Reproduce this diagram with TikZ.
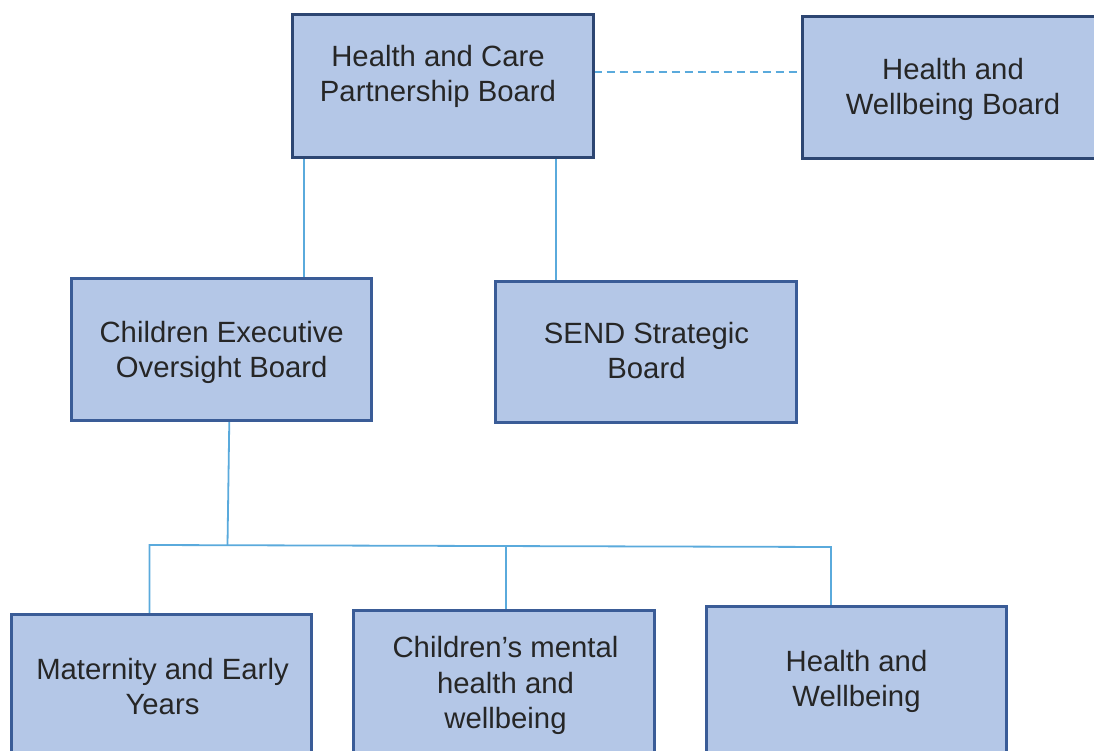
\documentclass[tikz,border=0pt]{standalone}
\usepackage{fontspec}
\setmainfont{Liberation Sans}
\usetikzlibrary{backgrounds}

\definecolor{boxfill}{HTML}{B4C7E7}
\definecolor{boxline}{HTML}{3A5C97}
\definecolor{topline}{HTML}{2D4672}
\definecolor{linkblue}{HTML}{5AAADC}
\definecolor{txtgray}{HTML}{262626}

\tikzset{
  board/.style={draw=boxline, line width=3pt, fill=boxfill, rectangle,
    inner sep=0pt, outer sep=0pt},
  topboard/.style={board, draw=topline},
  label text/.style={anchor=north, inner sep=0pt, align=center,
    text=txtgray, font=\fontsize{29.3}{35.5}\selectfont},
  link/.style={draw=linkblue, line width=1.8pt},
  dashlink/.style={link, dash pattern=on 8pt off 5pt}
}

\begin{document}
\begin{tikzpicture}[x=1pt, y=-1pt]
  \useasboundingbox (0,0) rectangle (1094,751);
  \clip (0,0) rectangle (1094,751);

  % boards
  \node[topboard, minimum width=301pt, minimum height=143pt] (hcpb) at (443,86) {};
  \node[topboard, minimum width=306pt, minimum height=142pt] (hwb) at (955.5,87.5) {};
  \node[board, minimum width=300pt, minimum height=142pt] (ceob) at (221.5,349.5) {};
  \node[board, minimum width=301pt, minimum height=141pt] (send) at (646,352) {};
  \node[board, minimum width=300pt, minimum height=154pt] (mat) at (161.5,691.5) {};
  \node[board, minimum width=301pt, minimum height=158pt] (cmh) at (504,689.5) {};
  \node[board, minimum width=300pt, minimum height=162pt] (hw) at (856.5,687.5) {};

  % board titles
  \node[label text] (hcpbT) at (438,45) {Health and Care\\Partnership Board};
  \node[label text] (hwbT) at (953,58) {Health and\\Wellbeing Board};
  \node[label text] (ceobT) at (221.7,321) {Children Executive\\Oversight Board};
  \node[label text] (sendT) at (646.5,322) {SEND Strategic\\Board};
  \node[label text] (matT) at (162.5,658) {Maternity and Early\\Years};
  \node[label text] (cmhT) at (505.5,636.5) {Children’s mental\\health and\\wellbeing};
  \node[label text] (hwT) at (856.5,650) {Health and\\Wellbeing};

  % connector positions
  \coordinate (xa) at (304,0);
  \coordinate (xb) at (556,0);
  \coordinate (ydash) at (0,72);
  \coordinate (xc) at (229.3,0);
  \coordinate (junction) at (227.5,545);
  \coordinate (leftcorner) at (149.5,545);
  \coordinate (midpoint) at (506,545.9);
  \coordinate (rightcorner) at (831,547);

  \begin{scope}[on background layer]
    \draw[link] (hcpb.south -| xa) -- (ceob.north -| xa);
    \draw[link] (hcpb.south -| xb) -- (send.north -| xb);
    \draw[dashlink] (hcpb.east |- ydash) -- (hwb.west |- ydash);
    \draw[link] (ceob.south -| xc) -- (junction);
    \draw[link] (mat.north -| leftcorner) -- (leftcorner) -- (rightcorner) -- (hw.north -| rightcorner);
    \draw[link] (midpoint) -- (cmh.north -| midpoint);
  \end{scope}
\end{tikzpicture}
\end{document}
